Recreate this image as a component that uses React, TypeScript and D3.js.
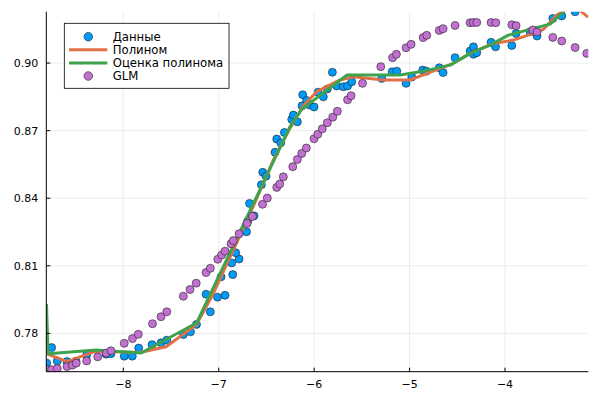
import * as d3 from 'd3'

type Pt = [number, number]

const xTicks = [-8, -7, -6, -5, -4]
const yTicks = [0.78, 0.81, 0.84, 0.87, 0.9]

// Данные (blue scatter)
const dataPoints: Pt[] = [
  [-8.803, 0.7668], [-8.751, 0.7737], [-8.692, 0.7677], [-8.59, 0.7675], [-8.496, 0.7677],
  [-8.384, 0.7704], [-8.181, 0.7708], [-8.129, 0.771], [-7.99, 0.7699], [-7.906, 0.7699],
  [-7.839, 0.7735], [-7.699, 0.775], [-7.605, 0.7758], [-7.545, 0.777], [-7.371, 0.7795],
  [-7.296, 0.7807], [-7.233, 0.784], [-7.133, 0.7974], [-7.088, 0.7896], [-7.013, 0.7961],
  [-6.934, 0.7969], [-6.976, 0.8051], [-6.853, 0.8061], [-6.864, 0.8113], [-6.787, 0.813],
  [-6.822, 0.8158], [-6.709, 0.8251], [-6.696, 0.8299], [-6.63, 0.8322], [-6.677, 0.8377],
  [-6.553, 0.846], [-6.539, 0.8515], [-6.504, 0.8498], [-6.41, 0.8604], [-6.392, 0.8663],
  [-6.35, 0.8646], [-6.312, 0.8692], [-6.235, 0.875], [-6.218, 0.8769], [-6.176, 0.8739],
  [-6.127, 0.881], [-6.12, 0.8859], [-6.078, 0.8834], [-6.05, 0.8814], [-6.001, 0.8805],
  [-5.959, 0.8871], [-5.904, 0.885], [-5.862, 0.8885], [-5.809, 0.8959], [-5.763, 0.8898],
  [-5.694, 0.8895], [-5.65, 0.8898], [-5.606, 0.8917], [-5.291, 0.8932], [-5.183, 0.8961],
  [-5.134, 0.8964], [-5.037, 0.891], [-4.977, 0.8938], [-4.862, 0.8969], [-4.824, 0.8964],
  [-4.689, 0.8979], [-4.649, 0.8958], [-4.523, 0.9024], [-4.366, 0.9053], [-4.331, 0.9072],
  [-4.331, 0.9039], [-4.296, 0.9046], [-4.146, 0.9092], [-4.099, 0.9072], [-3.929, 0.9078],
  [-3.884, 0.9131], [-3.737, 0.9139], [-3.664, 0.912], [-3.499, 0.9198], [-3.405, 0.9209],
  [-3.265, 0.9228]
]

// Полином (orange line)
const polyLine: Pt[] = [
  [-8.805, 0.771], [-8.59, 0.7675], [-8.286, 0.7721], [-7.825, 0.7715], [-7.552, 0.7741],
  [-7.233, 0.7839], [-7.07, 0.7966], [-6.756, 0.8254], [-6.602, 0.8399], [-6.428, 0.8569],
  [-6.253, 0.8711], [-6.116, 0.8809], [-5.973, 0.8873], [-5.728, 0.8925], [-5.589, 0.8939],
  [-5.275, 0.8925], [-4.995, 0.8925], [-4.89, 0.8942], [-4.68, 0.8976], [-4.541, 0.8999],
  [-4.331, 0.905], [-4.122, 0.9087], [-3.912, 0.9102], [-3.702, 0.9132], [-3.597, 0.915],
  [-3.457, 0.9213], [-3.352, 0.924], [-3.234, 0.924], [-3.129, 0.9204]
]

// Оценка полинома (green line)
const estLine: Pt[] = [
  [-8.805, 0.793], [-8.789, 0.771], [-8.286, 0.7726], [-7.814, 0.7713], [-7.233, 0.7846],
  [-6.253, 0.8718], [-6.127, 0.8796], [-5.655, 0.8947], [-5.1, 0.8947], [-4.89, 0.8961],
  [-4.575, 0.8991], [-4.366, 0.9043], [-4.156, 0.908], [-3.964, 0.9124], [-3.702, 0.9154],
  [-3.527, 0.9173], [-3.388, 0.9228], [-3.265, 0.928]
]

// GLM (purple scatter)
const glmPoints: Pt[] = [
  [-8.795, 0.7639], [-8.751, 0.7639], [-8.692, 0.7644], [-8.59, 0.7653], [-8.535, 0.7659],
  [-8.493, 0.7668], [-8.384, 0.7678], [-8.268, 0.7696], [-8.179, 0.7713], [-8.129, 0.7723],
  [-7.99, 0.7756], [-7.904, 0.7777], [-7.843, 0.7796], [-7.694, 0.7843], [-7.605, 0.7874],
  [-7.544, 0.7896], [-7.371, 0.7965], [-7.301, 0.7995], [-7.236, 0.8023], [-7.133, 0.807],
  [-7.088, 0.8089], [-7.01, 0.8129], [-6.969, 0.8148], [-6.934, 0.8165], [-6.871, 0.8198],
  [-6.847, 0.8212], [-6.787, 0.8242], [-6.703, 0.8288], [-6.646, 0.8319], [-6.541, 0.8373],
  [-6.491, 0.8401], [-6.392, 0.8448], [-6.361, 0.8463], [-6.323, 0.8495], [-6.224, 0.854],
  [-6.176, 0.8572], [-6.13, 0.8599], [-6.082, 0.8623], [-6.001, 0.8664], [-5.962, 0.8684],
  [-5.915, 0.8708], [-5.862, 0.8735], [-5.805, 0.876], [-5.757, 0.8786], [-5.65, 0.8837],
  [-5.613, 0.8855], [-5.493, 0.891], [-5.302, 0.8984], [-5.178, 0.9024], [-5.138, 0.9039],
  [-5.037, 0.9068], [-4.984, 0.9083], [-4.858, 0.9113], [-4.82, 0.9123], [-4.689, 0.9145],
  [-4.649, 0.9152], [-4.523, 0.9167], [-4.366, 0.9179], [-4.331, 0.918], [-4.296, 0.918],
  [-4.146, 0.918], [-4.096, 0.9179], [-3.929, 0.917], [-3.884, 0.9166], [-3.709, 0.9147],
  [-3.664, 0.9138], [-3.499, 0.9114], [-3.405, 0.9098], [-3.265, 0.9069], [-3.143, 0.9043]
]

const legendLabels = ['Данные', 'Полином', 'Оценка полинома', 'GLM']
const colors = ['#009af9', '#e26f46', '#3da44d', '#c271d2']

const font = 'DejaVu Sans, sans-serif'

export default function App() {
  const width = 600
  const height = 400
  const margin = { top: 11.7, right: 11.7, bottom: 28.3, left: 46.3 }

  const x = d3.scaleLinear().domain([-8.807, -3.127]).range([margin.left, width - margin.right])
  const y = d3.scaleLinear().domain([0.763, 0.9228]).range([height - margin.bottom, margin.top])

  const line = d3.line<Pt>().x(d => x(d[0])).y(d => y(d[1]))
  const x0 = margin.left
  const x1 = width - margin.right
  const y0 = height - margin.bottom
  const y1 = margin.top

  const fmtX = (v: number) => (v < 0 ? '\u2212' + Math.abs(v) : String(v))

  // legend layout
  const lg = { x: 64.3, y: 23.3, w: 164.7, h: 65, row: 13.1 }

  return (
    <div style={{ position: 'absolute', left: 0, top: 0 }}>
      <svg width={width} height={height} style={{ display: 'block', background: '#fff' }}>
        <defs>
          <clipPath id="plotArea">
            <rect x={x0} y={y1} width={x1 - x0} height={y0 - y1} />
          </clipPath>
        </defs>

        {/* grid */}
        {xTicks.map(t => (
          <line key={'gx' + t} x1={x(t)} x2={x(t)} y1={y1} y2={y0} stroke="#e9e9e9" strokeWidth={0.8} />
        ))}
        {yTicks.map(t => (
          <line key={'gy' + t} x1={x0} x2={x1} y1={y(t)} y2={y(t)} stroke="#e9e9e9" strokeWidth={0.8} />
        ))}

        <g clipPath="url(#plotArea)">
          {dataPoints.map((d, i) => (
            <circle key={'d' + i} cx={x(d[0])} cy={y(d[1])} r={4} fill={colors[0]} stroke="#222" strokeWidth={0.6} />
          ))}
          <path d={line(polyLine) || ''} fill="none" stroke={colors[1]} strokeWidth={3} strokeLinejoin="round" />
          <path d={line(estLine) || ''} fill="none" stroke={colors[2]} strokeWidth={3} strokeLinejoin="round" />
          {glmPoints.map((d, i) => (
            <circle key={'g' + i} cx={x(d[0])} cy={y(d[1])} r={4} fill={colors[3]} stroke="#222" strokeWidth={0.6} />
          ))}
        </g>

        {/* axes */}
        <line x1={x0} x2={x1} y1={y0} y2={y0} stroke="#000" strokeWidth={1} />
        <line x1={x0} x2={x0} y1={y1} y2={y0} stroke="#000" strokeWidth={1} />
        {xTicks.map(t => (
          <g key={'tx' + t}>
            <line x1={x(t)} x2={x(t)} y1={y0} y2={y0 - 4} stroke="#000" strokeWidth={1} />
            <text x={x(t)} y={y0 + 16} textAnchor="middle" fontFamily={font} fontSize={11} fill="#000">
              {fmtX(t)}
            </text>
          </g>
        ))}
        {yTicks.map(t => (
          <g key={'ty' + t}>
            <line x1={x0} x2={x0 + 4} y1={y(t)} y2={y(t)} stroke="#000" strokeWidth={1} />
            <text x={x0 - 8} y={y(t) + 4} textAnchor="end" fontFamily={font} fontSize={11} fill="#000">
              {d3.format('.2f')(t)}
            </text>
          </g>
        ))}

        {/* legend */}
        <rect x={lg.x} y={lg.y} width={lg.w} height={lg.h} fill="#fff" stroke="#000" strokeWidth={0.8} />
        {legendLabels.map((label, i) => {
          const cy = lg.y + 13.4 + i * lg.row
          const isLine = i === 1 || i === 2
          return (
            <g key={label}>
              {isLine ? (
                <line x1={69} x2={107.3} y1={cy} y2={cy} stroke={colors[i]} strokeWidth={3} />
              ) : (
                <circle cx={88.3} cy={cy} r={4.3} fill={colors[i]} stroke="#222" strokeWidth={0.6} />
              )}
              <text x={112.7} y={cy + 4.2} fontFamily={font} fontSize={11.7} fill="#000">
                {label}
              </text>
            </g>
          )
        })}
      </svg>
    </div>
  )
}
